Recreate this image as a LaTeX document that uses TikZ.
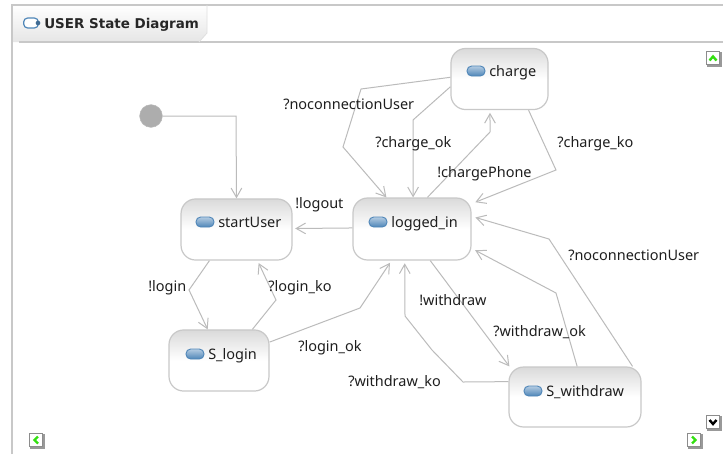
\documentclass[tikz,border=0pt]{standalone}
\usepackage{fontspec}
\setmainfont{Noto Sans}
\newfontfamily\tabfont{DejaVu Sans}
\usetikzlibrary{arrows.meta}
\definecolor{linegray}{HTML}{BBBBBB}
\definecolor{framegray}{HTML}{C8C8C8}
\definecolor{stategray}{HTML}{DADADA}
\definecolor{iconblue}{HTML}{4F86B8}
\definecolor{iconlight}{HTML}{B4CCE2}
\definecolor{labelgray}{HTML}{1E1E1E}
\definecolor{arrowgreen}{HTML}{33E010}
\pgfdeclareverticalshading{stateshade}{100bp}{color(0bp)=(white); color(50bp)=(white); color(75bp)=(stategray); color(100bp)=(stategray)}
\pgfdeclareverticalshading{tabshade}{100bp}{color(0bp)=(black!10); color(25bp)=(black!10); color(75bp)=(white); color(100bp)=(white)}
\tikzset{
  statebox/.style={draw=framegray,line width=0.9pt,rounded corners=11pt,shading=stateshade,inner sep=0pt},
  stateicon/.style={draw=iconblue,line width=0.7pt,rounded corners=3.5pt,top color=iconlight,bottom color=iconblue,minimum width=13.5pt,minimum height=7.5pt,inner sep=0pt},
  statetext/.style={anchor=base west,inner sep=0pt,text=labelgray,font=\fontsize{10.85}{12}\selectfont},
  translabel/.style={anchor=base west,inner sep=0pt,text=labelgray,font=\fontsize{10.85}{12}\selectfont},
  trans/.style={draw=linegray,line width=0.75pt,->,>={Straight Barb[length=7pt,width=8pt]}},
  scrollbtn/.style={draw=black!45,fill=white,line width=0.75pt,minimum size=9.5pt,inner sep=0pt},
}
\begin{document}
\begin{tikzpicture}[x=0.75pt,y=-0.75pt]
\useasboundingbox (0,0) rectangle (723,454);
% Editor frame and tab
\fill[white] (0,0) rectangle (723,454);
\shade[shading=tabshade] (12,5) -- (207,5) -- (207,33) -- (199,42) -- (12,42) -- cycle;
\draw[framegray,line width=1.1pt] (12,454) -- (12,5) -- (723,5);
\draw[framegray,line width=0.9pt] (19,42) -- (723,42);
\draw[black!12,line width=0.6pt] (207,5) -- (207,33) -- (199,42);
\node[draw=iconblue,line width=0.9pt,rounded corners=3pt,fill=white,minimum width=11pt,minimum height=7.5pt,inner sep=0pt] (tabIcon) at (31,23) {};
\node[circle,fill=iconblue!80!black,minimum size=3.5pt,inner sep=0pt] (tabDot) at (38,23) {};
\node[anchor=base west,inner sep=0pt,text=black!85,font=\tabfont\fontsize{10.1}{12}\selectfont\bfseries] (tabTitle) at (44,28) {USER State Diagram};

% States
\node[statebox,minimum width=72.8pt,minimum height=45.8pt] (charge) at (499.5,79) {};
\node[statebox,minimum width=88.5pt,minimum height=46.5pt] (loggedIn) at (412,229) {};
\node[statebox,minimum width=83.2pt,minimum height=45.8pt] (startUser) at (236.5,229.5) {};
\node[statebox,minimum width=75pt,minimum height=45.8pt] (sLogin) at (219,360.5) {};
\node[statebox,minimum width=99pt,minimum height=45pt] (sWithdraw) at (575,397) {};
\node[circle,fill=black!32,draw=black!28,minimum size=17pt,inner sep=0pt] (init) at (151,116) {};

\node[stateicon] (chargeIcon) at (476,71) {};
\node[stateicon] (loggedIcon) at (378,222) {};
\node[stateicon] (startIcon) at (205,222) {};
\node[stateicon] (loginIcon) at (195,354) {};
\node[stateicon] (withdrawIcon) at (533,391) {};
\node[statetext] (chargeText) at (489,76.5) {charge};
\node[statetext] (loggedText) at (391,227.5) {logged\_in};
\node[statetext] (startText) at (218,227.5) {startUser};
\node[statetext] (loginText) at (208,359.5) {S\_login};
\node[statetext] (withdrawText) at (546,396.5) {S\_withdraw};

% Bends of the transitions
\coordinate (initBend) at (236,116);
\coordinate (noconA) at (361,89);
\coordinate (noconB) at (343,147);
\coordinate (okBend) at (413,120);
\coordinate (phoneBend) at (490,132);
\coordinate (koBend) at (556,170);
\coordinate (loginBend) at (189,290);
\coordinate (loginKoBend) at (276,300);
\coordinate (loginOkBend) at (360,308);
\coordinate (wkoA) at (463,382);
\coordinate (wkoB) at (432,350);
\coordinate (wkoC) at (405,316);
\coordinate (wokBend) at (556,293);
\coordinate (noconC) at (549,239);

% Transitions
\draw[trans] (init) -- (initBend) -- (startUser.90);
\draw[trans] (charge.178) -- (noconA) -- (noconB) -- (loggedIn.129);
\draw[trans] (charge.189) -- (okBend) -- (loggedIn.88);
\draw[trans,shorten >=2pt] (loggedIn.64) -- (phoneBend) -- (charge.253);
\draw[trans,shorten >=3pt] (charge.313) -- (koBend) -- (loggedIn.23);
\draw[trans,shorten >=2pt] (loggedIn.179) -- (startUser.1.5);
\draw[trans] (startUser.229) -- (loginBend) -- (sLogin.110);
\draw[trans,shorten >=2pt] (sLogin.43) -- (loginKoBend) -- (startUser.304);
\draw[trans,shorten >=2pt] (sLogin.20) -- (loginOkBend) -- (loggedIn.237);
\draw[trans] (loggedIn.300) -- (sWithdraw.155);
\draw[trans,shorten >=2pt] (sWithdraw.167) -- (wkoA) -- (wkoB) -- (wkoC) -- (loggedIn.257);
\draw[trans,shorten >=3pt] (sWithdraw.86) -- (wokBend) -- (loggedIn.342);
\draw[trans,shorten >=3pt] (sWithdraw.28) -- (noconC) -- (loggedIn.12);

% Transition labels
\node[translabel] (lblNoconA) at (283,109.5) {?noconnectionUser};
\node[translabel] (lblChargeOk) at (375,147.5) {?charge\_ok};
\node[translabel] (lblPhone) at (437,177.5) {!chargePhone};
\node[translabel] (lblChargeKo) at (557,147.5) {?charge\_ko};
\node[translabel] (lblLogout) at (295,208.5) {!logout};
\node[translabel] (lblLogin) at (148,291.5) {!login};
\node[translabel] (lblLoginKo) at (268,291.5) {?login\_ko};
\node[translabel] (lblLoginOk) at (298,351.5) {?login\_ok};
\node[translabel] (lblWko) at (348,386.5) {?withdraw\_ko};
\node[translabel] (lblWithdraw) at (419,305.5) {!withdraw};
\node[translabel] (lblWok) at (493,336.5) {?withdraw\_ok};
\node[translabel] (lblNoconB) at (568,260.5) {?noconnectionUser};

% Scroll buttons
\foreach \bx/\by in {713/58,713/422,36/440,694/440}
  \draw[black!40,line width=1.2pt] (\bx-6,\by+8) -- (\bx+8,\by+8) -- (\bx+8,\by-6);
\node[scrollbtn] (btnUp) at (713,58) {};
\node[scrollbtn] (btnDown) at (713,422) {};
\node[scrollbtn] (btnLeft) at (36,440) {};
\node[scrollbtn] (btnRight) at (694,440) {};
\draw[arrowgreen,line width=1.8pt] (709.5,60.5) -- (713,56.5) -- (716.5,60.5);
\draw[black,line width=1.8pt] (709.5,420) -- (713,424) -- (716.5,420);
\draw[arrowgreen,line width=1.8pt] (38,436.5) -- (34.5,440) -- (38,443.5);
\draw[arrowgreen,line width=1.8pt] (692,436.5) -- (695.5,440) -- (692,443.5);
\end{tikzpicture}
\end{document}
